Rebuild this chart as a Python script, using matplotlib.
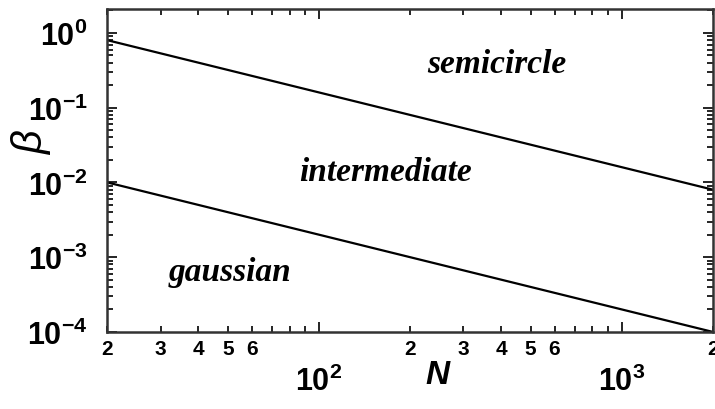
import numpy as np
import matplotlib
matplotlib.use("Agg")
import matplotlib.pyplot as plt
from matplotlib.ticker import LogLocator, FuncFormatter, NullFormatter

plt.rcParams['font.family'] = 'Liberation Sans'
plt.rcParams['mathtext.fontset'] = 'custom'
plt.rcParams['mathtext.rm'] = 'Liberation Sans'
plt.rcParams['mathtext.bf'] = 'Liberation Sans:bold'
plt.rcParams['mathtext.it'] = 'Liberation Sans:italic'

# phase boundaries
N = [20, 2000]
beta_upper = [0.8, 0.008]
beta_lower = [0.01, 0.0001]

region_labels = ["semicircle", "intermediate", "gaussian"]
region_pos = [(0.644, 0.830), (0.459, 0.498), (0.203, 0.186)]

fig = plt.figure(figsize=(7.15, 4.10), dpi=100)
ax = fig.add_axes([0.150, 0.188, 0.847, 0.788])

ax.loglog(N, beta_upper, color='black', lw=1.6)
ax.loglog(N, beta_lower, color='black', lw=1.6)

ax.set_xlim(20, 2000)
ax.set_ylim(1e-4, 2.1)

for txt, (x, y) in zip(region_labels, region_pos):
    ax.text(x, y, txt, transform=ax.transAxes, ha='center', va='center',
            family='Liberation Serif', style='italic', weight='bold',
            fontsize=24)


def major_fmt(v, pos):
    e = int(round(np.log10(v)))
    return r'$\mathbf{10^{%d}}$' % e


def minor_fmt(v, pos):
    d = int(round(v / 10 ** np.floor(np.log10(v) + 1e-9)))
    return str(d) if d in (2, 3, 4, 5, 6) else ''


ax.xaxis.set_major_locator(LogLocator(base=10, numticks=10))
ax.xaxis.set_minor_locator(LogLocator(base=10, subs=np.arange(2, 10), numticks=20))
ax.xaxis.set_major_formatter(FuncFormatter(major_fmt))
ax.xaxis.set_minor_formatter(FuncFormatter(minor_fmt))

ax.yaxis.set_major_locator(LogLocator(base=10, numticks=10))
ax.yaxis.set_minor_locator(LogLocator(base=10, subs=np.arange(2, 10), numticks=20))
ax.yaxis.set_major_formatter(FuncFormatter(major_fmt))
ax.yaxis.set_minor_formatter(NullFormatter())

ax.tick_params(which='both', direction='in', top=True, right=True, width=1.2)
ax.tick_params(which='major', length=7)
ax.tick_params(which='minor', length=4)
ax.tick_params(axis='x', which='major', labelsize=22, pad=24)
ax.tick_params(axis='x', which='minor', labelsize=15, pad=5)
ax.tick_params(axis='y', which='major', labelsize=22, pad=14)
for lab in ax.xaxis.get_minorticklabels():
    lab.set_fontweight('bold')

for s in ax.spines.values():
    s.set_linewidth(1.8)
    s.set_color('#333333')

ax.set_xlabel('N', fontsize=24, style='italic', weight='bold')
ax.xaxis.set_label_coords(0.545, -0.085)
ax.set_ylabel(r'$\beta$', fontsize=30, family='DejaVu Sans')
plt.rcParams['mathtext.fontset'] = 'dejavusans'
ax.yaxis.set_label_coords(-0.09, 0.59)

fig.savefig('out.png', dpi=100)
